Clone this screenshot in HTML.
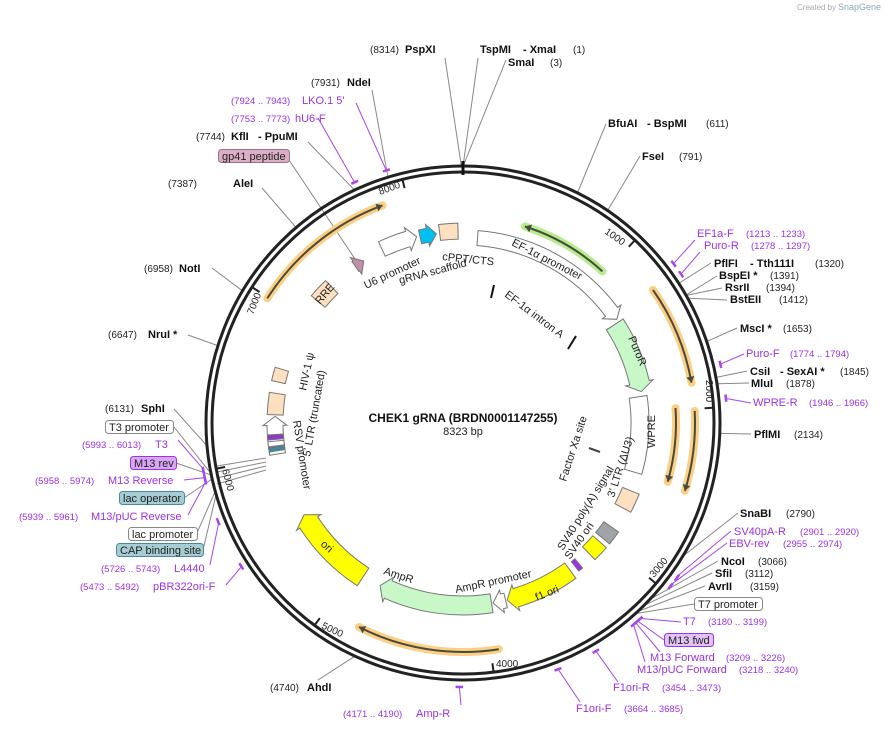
<!DOCTYPE html>
<html><head><meta charset="utf-8"><style>
body{margin:0;background:#fff;width:895px;height:730px;overflow:hidden}
svg{font-family:"Liberation Sans","DejaVu Sans",sans-serif}
.n{font-size:10px;fill:#222}
.b{font-size:11px;font-weight:bold;fill:#111}
.p{font-size:11px;fill:#9a32e6}
.pn{font-size:9.5px;fill:#9a32e6}
.f{font-size:11px;fill:#222}
.t{font-size:10px;fill:#222}
</style></head><body>
<svg id="s" width="895" height="730" viewBox="0 0 895 730">
<g id="g"></g>
<text x="797" y="10" font-size="8" fill="#aaa">Created by</text><text x="838" y="10" font-size="9" fill="#8ab">SnapGene</text>
<text x="463" y="422" text-anchor="middle" font-size="12" font-weight="bold" fill="#111">CHEK1 gRNA (BRDN0001147255)</text>
<text x="463" y="435" text-anchor="middle" font-size="11" fill="#222">8323 bp</text>
<text class="t" transform="translate(604,233) rotate(35)">1000</text>
<text class="t" transform="translate(706,380) rotate(90)">2000</text>
<text class="t" transform="translate(654,578) rotate(-50)">3000</text>
<text class="t" x="496" y="667">4000</text>
<text class="t" transform="translate(321,628) rotate(25)">5000</text>
<text class="t" transform="translate(222,470) rotate(75)">6000</text>
<text class="t" transform="translate(253,315) rotate(-68)">7000</text>
<text class="t" transform="translate(380,195) rotate(-20)">8000</text>
<text class="f" transform="translate(511,245) rotate(27)">EF-1α promoter</text>
<text class="f" transform="translate(504,296) rotate(37)">EF-1α intron A</text>
<text class="f" transform="translate(628,338) rotate(67)">PuroR</text>
<text class="f" transform="translate(655,448) rotate(-90)">WPRE</text>
<text class="f" transform="translate(614,498) rotate(-72)">3' LTR (ΔU3)</text>
<text class="f" transform="translate(563,551) rotate(-58)">SV40 poly(A) signal</text>
<text class="f" transform="translate(570,560) rotate(-55)">SV40 ori</text>
<text class="f" transform="translate(566,482) rotate(-72)">Factor Xa site</text>
<text class="f" transform="translate(537,601) rotate(-22)">f1 ori</text>
<text class="f" transform="translate(456,593) rotate(-12)">AmpR promoter</text>
<text class="f" transform="translate(383,574) rotate(18)">AmpR</text>
<text class="f" transform="translate(320,545) rotate(42)">ori</text>
<text class="f" transform="translate(293,421) rotate(81)">RSV promoter</text>
<text class="f" transform="translate(310,457) rotate(-80)">5' LTR (truncated)</text>
<text class="f" transform="translate(306,391) rotate(-78)">HIV-1 ψ</text>
<text class="f" transform="translate(320,305) rotate(-50)">RRE</text>
<text class="f" transform="translate(366,289) rotate(-25)">U6 promoter</text>
<text class="f" transform="translate(400,284) rotate(-15)">gRNA scaffold</text>
<text class="f" transform="translate(442,260) rotate(6)">cPPT/CTS</text>
<text class="n" x="370" y="53">(8314)</text><text class="b" x="405" y="53">PspXI</text>
<text class="b" x="480" y="53">TspMI</text><text class="b" x="523" y="53">- XmaI</text><text class="n" x="573" y="53">(1)</text>
<text class="b" x="508" y="66">SmaI</text><text class="n" x="550" y="66">(3)</text>
<text class="b" x="608" y="127">BfuAI</text><text class="b" x="647" y="127">- BspMI</text><text class="n" x="706" y="127">(611)</text>
<text class="b" x="642" y="160">FseI</text><text class="n" x="679" y="160">(791)</text>
<text class="p" x="697" y="237">EF1a-F</text><text class="pn" x="746" y="237">(1213 .. 1233)</text>
<text class="p" x="704" y="249">Puro-R</text><text class="pn" x="751" y="249">(1278 .. 1297)</text>
<text class="b" x="714" y="267">PflFI</text><text class="b" x="750" y="267">- Tth111I</text><text class="n" x="815" y="267">(1320)</text>
<text class="b" x="719" y="279">BspEI *</text><text class="n" x="770" y="279">(1391)</text>
<text class="b" x="725" y="291">RsrII</text><text class="n" x="766" y="291">(1394)</text>
<text class="b" x="730" y="303">BstEII</text><text class="n" x="779" y="303">(1412)</text>
<text class="b" x="740" y="332">MscI *</text><text class="n" x="783" y="332">(1653)</text>
<text class="p" x="746" y="357">Puro-F</text><text class="pn" x="790" y="357">(1774 .. 1794)</text>
<text class="b" x="750" y="375">CsiI</text><text class="b" x="780" y="375">- SexAI *</text><text class="n" x="840" y="375">(1845)</text>
<text class="b" x="751" y="387">MluI</text><text class="n" x="786" y="387">(1878)</text>
<text class="p" x="753" y="406">WPRE-R</text><text class="pn" x="809" y="406">(1946 .. 1966)</text>
<text class="b" x="754" y="438">PflMI</text><text class="n" x="794" y="438">(2134)</text>
<text class="b" x="740" y="517">SnaBI</text><text class="n" x="786" y="517">(2790)</text>
<text class="p" x="734" y="535">SV40pA-R</text><text class="pn" x="800" y="535">(2901 .. 2920)</text>
<text class="p" x="729" y="547">EBV-rev</text><text class="pn" x="783" y="547">(2955 .. 2974)</text>
<text class="b" x="721" y="565">NcoI</text><text class="n" x="758" y="565">(3066)</text>
<text class="b" x="715" y="577">SfiI</text><text class="n" x="745" y="577">(3112)</text>
<text class="b" x="708" y="590">AvrII</text><text class="n" x="750" y="590">(3159)</text>
<rect x="694.5" y="597.5" width="68" height="13" rx="3" fill="#fff" stroke="#888"/><text class="f" x="698" y="608">T7 promoter</text>
<text class="p" x="683" y="625">T7</text><text class="pn" x="708" y="625">(3180 .. 3199)</text>
<rect x="664.5" y="633.5" width="49" height="13" rx="3" fill="#e3c3f7" stroke="#9a32e6"/><text class="f" x="668" y="644">M13 fwd</text>
<text class="p" x="650" y="661">M13 Forward</text><text class="pn" x="726" y="661">(3209 .. 3226)</text>
<text class="p" x="637" y="673">M13/pUC Forward</text><text class="pn" x="739" y="673">(3218 .. 3240)</text>
<text class="p" x="613" y="691">F1ori-R</text><text class="pn" x="662" y="691">(3454 .. 3473)</text>
<text class="p" x="576" y="712">F1ori-F</text><text class="pn" x="624" y="712">(3664 .. 3685)</text>
<text class="pn" x="343" y="717">(4171 .. 4190)</text><text class="p" x="416" y="717">Amp-R</text>
<text class="n" x="270" y="691">(4740)</text><text class="b" x="307" y="691">AhdI</text>
<text class="pn" x="80" y="590">(5473 .. 5492)</text><text class="p" x="153" y="590">pBR322ori-F</text>
<text class="pn" x="101" y="572">(5726 .. 5743)</text><text class="p" x="174" y="572">L4440</text>
<rect x="116.5" y="543.5" width="87" height="13" rx="3" fill="#a6ccd4" stroke="#4a8a96"/><text class="f" x="120" y="554">CAP binding site</text>
<rect x="128.5" y="527.5" width="69" height="13" rx="3" fill="#fff" stroke="#888"/><text class="f" x="132" y="538">lac promoter</text>
<text class="pn" x="19" y="520">(5939 .. 5961)</text><text class="p" x="91" y="520">M13/pUC Reverse</text>
<rect x="119.5" y="491.5" width="65" height="13" rx="3" fill="#a6ccd4" stroke="#4a8a96"/><text class="f" x="123" y="502">lac operator</text>
<text class="pn" x="35" y="484">(5958 .. 5974)</text><text class="p" x="108" y="484">M13 Reverse</text>
<rect x="130.5" y="456.5" width="46" height="13" rx="3" fill="#d9a6f5" stroke="#9a32e6"/><text class="f" x="134" y="467">M13 rev</text>
<text class="pn" x="82" y="448">(5993 .. 6013)</text><text class="p" x="155" y="448">T3</text>
<rect x="105.5" y="420.5" width="68" height="13" rx="3" fill="#fff" stroke="#888"/><text class="f" x="109" y="431">T3 promoter</text>
<text class="n" x="105" y="412">(6131)</text><text class="b" x="141" y="412">SphI</text>
<text class="n" x="108" y="338">(6647)</text><text class="b" x="148" y="338">NruI *</text>
<text class="n" x="144" y="272">(6958)</text><text class="b" x="179" y="272">NotI</text>
<text class="n" x="168" y="187">(7387)</text><text class="b" x="233" y="187">AleI</text>
<text class="n" x="196" y="140">(7744)</text><text class="b" x="231" y="140">KflI</text><text class="b" x="258" y="140">- PpuMI</text>
<rect x="218.5" y="149.5" width="71" height="13" rx="3" fill="#dcb0c4" stroke="#a07088"/><text class="f" x="222" y="160">gp41 peptide</text>
<text class="pn" x="231" y="104">(7924 .. 7943)</text><text class="p" x="302" y="104">LKO.1 5'</text>
<text class="pn" x="231" y="122">(7753 .. 7773)</text><text class="p" x="295" y="122">hU6-F</text>
<text class="n" x="311" y="86">(7931)</text><text class="b" x="347" y="86">NdeI</text>
</svg>
<script>
var NS="http://www.w3.org/2000/svg",g=document.getElementById("g"),cx=463,cy=423,R=257,N=8323;
function el(t,a){var e=document.createElementNS(NS,t);for(var k in a)e.setAttribute(k,a[k]);g.appendChild(e);return e}
function P(d,r){var a=d*Math.PI/180;return [cx+r*Math.sin(a),cy-r*Math.cos(a)]}
function pd(p){return p/N*360}
function f(v){return v[0].toFixed(1)+","+v[1].toFixed(1)}
function arc(a1,a2,r){var s=P(a1,r),e=P(a2,r);return "M"+f(s)+"A"+r+","+r+" 0 "+((Math.abs(a2-a1)>180)?1:0)+","+(a2>a1?1:0)+" "+f(e)}
function band(a1,a2,ri,ro,h,fill,st){
 var rm=(ri+ro)/2,hl=9/rm*180/Math.PI,d;
 if(h==1){var b=a2-hl;d="M"+f(P(a1,ro))+"A"+ro+","+ro+" 0 0,1 "+f(P(b,ro))+"L"+f(P(b,ro+4))+"L"+f(P(a2,rm))+"L"+f(P(b,ri-4))+"L"+f(P(b,ri))+"A"+ri+","+ri+" 0 0,0 "+f(P(a1,ri))+"Z";}
 else if(h==-1){var b=a1+hl;d="M"+f(P(a2,ro))+"A"+ro+","+ro+" 0 0,0 "+f(P(b,ro))+"L"+f(P(b,ro+4))+"L"+f(P(a1,rm))+"L"+f(P(b,ri-4))+"L"+f(P(b,ri))+"A"+ri+","+ri+" 0 0,1 "+f(P(a2,ri))+"Z";}
 else d="M"+f(P(a1,ro))+"A"+ro+","+ro+" 0 0,1 "+f(P(a2,ro))+"L"+f(P(a2,ri))+"A"+ri+","+ri+" 0 0,0 "+f(P(a1,ri))+"Z";
 el("path",{d:d,fill:fill,stroke:st||"#777","stroke-width":1});
}
function orf(a1,a2,r,h,glow){
 el("path",{d:arc(a1,a2,r),fill:"none",stroke:glow,"stroke-width":8,"stroke-linecap":"round"});
 el("path",{d:arc(a1,a2,r),fill:"none",stroke:"#4a4a3a","stroke-width":2});
 var t=h==1?a2:a1,s=h==1?-1:1,b=t+s*6/r*180/Math.PI;
 el("path",{d:"M"+f(P(t,r))+"L"+f(P(b,r+4))+"L"+f(P(b,r-4))+"Z",fill:"#4a4a3a"});
}
var L=[[8314,445,58,0],[1,478,58,0],[3,506,60,0],[611,606,124,0],[791,640,156,0],[1320,711,263,0],[1391,717,276,0],[1394,722,288,0],[1412,727,300,0],[1653,737,328,0],[1845,747,371,0],[1878,749,383,0],[2134,751,434,0],[2790,738,513,0],[3066,718,561,0],[3112,712,573,0],[3159,705,586,0],[3180,694,604,0],[4740,318,680,0],[6131,174,409,0],[6647,188,335,0],[6958,212,268,0],[7387,262,188,0],[7744,308,142,0],[7931,372,90,0],[5990,174,427,0],[5950,184,498,0],[5880,197,533,0],[5860,203,550,0],[5975,176,463,0],
[1223,695,240,1],[1288,700,252,1],[1784,744,354,1],[1956,751,403,1],[2910,731,531,1],[2964,727,543,1],[3190,681,622,1],[3205,664,640,1],[3217,660,652,1],[3229,645,662,1],[3463,618,682,1],[3674,580,702,1],[4180,461,705,1],[5482,226,585,1],[5735,210,565,1],[5950,188,515,1],[5966,184,480,1],[6003,178,440,1],[7763,318,118,1],[7933,356,103,1]];
L.forEach(function(l){var a=pd(l[0]),q=P(a,l[3]?263:258);
 el("line",{x1:l[1],y1:l[2],x2:q[0].toFixed(1),y2:q[1].toFixed(1),stroke:l[3]?"#a845ee":"#888","stroke-width":1});
 if(l[3]){el("path",{d:arc(a-0.8,a+0.8,264),fill:"none",stroke:"#a845ee","stroke-width":2.5});}
});
el("line",{x1:289,y1:160,x2:357,y2:262,stroke:"#888"});
[[458,466],[462,472],[466,478],[470,484]].forEach(function(v){el("line",{x1:266,y1:v[0],x2:217,y2:v[1],stroke:"#888"});});
el("circle",{cx:cx,cy:cy,r:R,fill:"none",stroke:"#222","stroke-width":3});
el("circle",{cx:cx,cy:cy,r:R-6,fill:"none",stroke:"#222","stroke-width":3});
el("line",{x1:cx,y1:cy-R-5,x2:cx,y2:cy-R+9,stroke:"#111","stroke-width":3});
for(var k=1000;k<=8000;k+=1000){var a=pd(k),s=P(a,R-7),e=P(a,R-15);el("line",{x1:s[0],y1:s[1],x2:e[0],y2:e[1],stroke:"#222","stroke-width":2});}
orf(302.5,339.7,232,1,"#fbcf85");
orf(55,80,232,1,"#fbcf85");
orf(86,106,213,1,"#fbcf85");
orf(87,107,232,1,"#fbcf85");
orf(171,207,229,1,"#fbcf85");
orf(17.5,42.6,206,-1,"#b5ec8f");
band(4.5,56,178,193,1,"#fff");
band(57,80,171,191,1,"#c8f7c8");
band(81.5,106,168,186,0,"#fff");
band(112,118,172,190,0,"#fde0c0");
band(125,129.5,172,190,0,"#a0a4a8");
band(131,136,172,190,0,"#ffff00");
band(140.5,142,176,188,0,"#9a32e6");
band(144,166,173,192,1,"#ffff00");
band(166.5,170.5,175,190,1,"#fff");
band(171,207,173,192,1,"#c8f7c8");
band(213,240,173,194,1,"#ffff00");
band(260.5,272,180,196,1,"#fff");
band(272.5,279,180,196,0,"#fde0c0");
band(282.5,286.5,182,196,0,"#fde0c0");
band(310,316,180,198,0,"#fde0c0");
band(325.5,328.5,184,196,1,"#c090a8");
band(335,346,184,200,1,"#fff");
band(347,352,184,198,1,"#00c0f0");
band(353,358.5,184,200,0,"#fde0c0");
band(265,266.5,180,196,0,"#8a3cc8");
band(263,264.5,180,196,0,"#fff");
band(261.5,262.8,180,196,0,"#3a8a9a");
el("line",{x1:494,y1:285,x2:491,y2:298,stroke:"#111","stroke-width":2});
el("line",{x1:576,y1:336,x2:568,y2:349,stroke:"#111","stroke-width":2});
el("line",{x1:589,y1:448,x2:600,y2:452,stroke:"#444","stroke-width":2});
</script>
</body></html>
